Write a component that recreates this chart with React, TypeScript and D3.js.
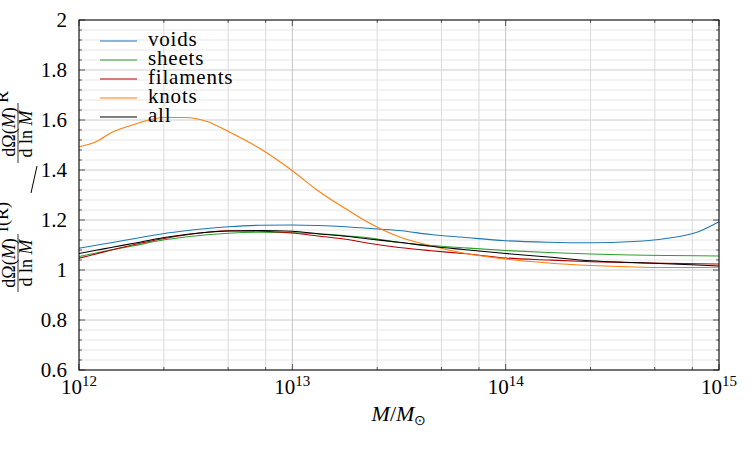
import * as d3 from 'd3'

// log10 of the halo mass at which every curve was sampled
const massExp = [12, 12.08, 12.15, 12.25, 12.4, 12.5, 12.6, 12.7, 12.85, 13, 13.12, 13.25, 13.35, 13.5, 13.65, 13.8, 14, 14.2, 14.4, 14.6, 14.75, 14.9, 15]

const voids = [1.087, 1.099, 1.109, 1.124, 1.146, 1.157, 1.166, 1.173, 1.179, 1.18, 1.178, 1.173, 1.167, 1.158, 1.142, 1.131, 1.117, 1.111, 1.109, 1.114, 1.126, 1.152, 1.193]
const sheets = [1.054, 1.068, 1.08, 1.096, 1.121, 1.132, 1.141, 1.147, 1.151, 1.149, 1.145, 1.137, 1.13, 1.11, 1.098, 1.089, 1.078, 1.07, 1.064, 1.06, 1.058, 1.057, 1.056]
const filaments = [1.047, 1.064, 1.08, 1.1, 1.126, 1.14, 1.151, 1.157, 1.155, 1.148, 1.136, 1.123, 1.108, 1.09, 1.077, 1.066, 1.048, 1.04, 1.033, 1.029, 1.027, 1.025, 1.024]
const knots = [1.493, 1.513, 1.549, 1.58, 1.61, 1.61, 1.594, 1.554, 1.485, 1.397, 1.317, 1.245, 1.193, 1.133, 1.097, 1.068, 1.044, 1.028, 1.018, 1.012, 1.01, 1.01, 1.011]
const all = [1.066, 1.079, 1.09, 1.106, 1.13, 1.142, 1.151, 1.156, 1.158, 1.155, 1.145, 1.135, 1.125, 1.111, 1.095, 1.082, 1.066, 1.052, 1.037, 1.03, 1.025, 1.02, 1.016]

const seriesNames = ['voids', 'sheets', 'filaments', 'knots', 'all']
const seriesValues = [voids, sheets, filaments, knots, all]
const seriesColors = ['#1f77b4', '#2ca02c', '#b40000', '#ff7f0e', '#000000']

const yTicks = [0.6, 0.8, 1, 1.2, 1.4, 1.6, 1.8, 2]
const yTickLabels = ['0.6', '0.8', '1', '1.2', '1.4', '1.6', '1.8', '2']
const xDecades = [12, 13, 14, 15]
const xMinorFactors = [2.5, 5, 7.5]

const W = 750
const H = 450
const margin = { top: 20, right: 31, bottom: 80, left: 79 }
const serif = { fontFamily: "'Liberation Serif', serif" }

export default function App() {
  const x = d3.scaleLog().domain([1e12, 1e15]).range([margin.left, W - margin.right])
  const y = d3.scaleLinear().domain([0.6, 2]).range([H - margin.bottom, margin.top])
  const [x0, x1] = x.range()
  const [y0, y1] = y.range()

  const yMinor = d3.range(0.6, 2.0001, 0.04).map((v) => +v.toFixed(2))
  const isMajorY = (v: number) => Math.abs(v * 5 - Math.round(v * 5)) < 1e-6
  const xMinor = xDecades.slice(0, -1).flatMap((e) => xMinorFactors.map((f) => f * 10 ** e))

  const line = d3
    .line<number>()
    .x((_, i) => x(10 ** massExp[i]))
    .y((d) => y(d))
    .curve(d3.curveMonotoneX)

  return (
    <svg width={W} height={H} style={{ position: 'absolute', left: 0, top: 0, background: '#fff' }}>
      {/* grid */}
      <g>
        {yMinor.map((v) => (
          <line key={'gy' + v} x1={x0} x2={x1} y1={y(v)} y2={y(v)} stroke={isMajorY(v) ? '#cccccc' : '#e6e6e6'} strokeWidth={1} />
        ))}
        {xMinor.map((v) => (
          <line key={'gxm' + v} x1={x(v)} x2={x(v)} y1={y0} y2={y1} stroke="#dadada" strokeWidth={1} />
        ))}
        {xDecades.map((e) => (
          <line key={'gx' + e} x1={x(10 ** e)} x2={x(10 ** e)} y1={y0} y2={y1} stroke="#c4c4c4" strokeWidth={1} />
        ))}
      </g>

      {/* curves */}
      <g fill="none" strokeWidth={1.1}>
        {seriesValues.map((vals, i) => (
          <path key={seriesNames[i]} d={line(vals) ?? ''} stroke={seriesColors[i]} />
        ))}
      </g>

      {/* ticks, inward on all four sides */}
      <g stroke="#333" strokeWidth={0.8}>
        {yMinor.map((v) => {
          const len = isMajorY(v) ? 6 : 3
          return (
            <g key={'ty' + v}>
              <line x1={x0} x2={x0 + len} y1={y(v)} y2={y(v)} />
              <line x1={x1} x2={x1 - len} y1={y(v)} y2={y(v)} />
            </g>
          )
        })}
        {xMinor.map((v) => (
          <g key={'txm' + v}>
            <line x1={x(v)} x2={x(v)} y1={y0} y2={y0 - 3} />
            <line x1={x(v)} x2={x(v)} y1={y1} y2={y1 + 3} />
          </g>
        ))}
        {xDecades.map((e) => (
          <g key={'tx' + e}>
            <line x1={x(10 ** e)} x2={x(10 ** e)} y1={y0} y2={y0 - 6} />
            <line x1={x(10 ** e)} x2={x(10 ** e)} y1={y1} y2={y1 + 6} />
          </g>
        ))}
      </g>

      <rect x={x0} y={y1} width={x1 - x0} height={y0 - y1} fill="none" stroke="#000" strokeWidth={1} />

      {/* tick labels */}
      <g fontSize={21} fill="#000">
        {yTicks.map((v, i) => (
          <text key={'ly' + v} x={x0 - 12} y={y(v) + 7} textAnchor="end" style={serif}>
            {yTickLabels[i]}
          </text>
        ))}
        {xDecades.map((e) => (
          <text key={'lx' + e} x={x(10 ** e)} y={394} textAnchor="middle" style={serif}>
            10<tspan dy={-8} fontSize={15}>{e}</tspan>
          </text>
        ))}
      </g>

      {/* x axis title */}
      <text x={(x0 + x1) / 2} y={421} textAnchor="middle" fontSize={22} style={serif}>
        <tspan fontStyle="italic">M</tspan>/<tspan fontStyle="italic">M</tspan>
        <tspan dy={4} fontSize={14}>⊙</tspan>
      </text>

      {/* y axis title: ratio of two mass functions */}
      <g transform="translate(0,196) rotate(-90)" fontSize={18}>
        <text x={-67} y={15} textAnchor="middle" style={serif}>
          dΩ(<tspan fontStyle="italic">M</tspan>)
        </text>
        <line x1={-96} x2={-38} y1={18} y2={18} stroke="#000" strokeWidth={0.8} />
        <text x={-67} y={32} textAnchor="middle" style={serif}>
          d ln <tspan fontStyle="italic">M</tspan>
        </text>
        <text x={-21} y={8} textAnchor="middle" style={serif}>f(R)</text>

        <text x={64} y={15} textAnchor="middle" style={serif}>
          dΩ(<tspan fontStyle="italic">M</tspan>)
        </text>
        <line x1={33} x2={93} y1={18} y2={18} stroke="#000" strokeWidth={0.8} />
        <text x={62} y={32} textAnchor="middle" style={serif}>
          d ln <tspan fontStyle="italic">M</tspan>
        </text>
        <text x={99} y={8} textAnchor="middle" style={serif}>R</text>
      </g>
      <line x1={31} y1={193} x2={37} y2={166} stroke="#000" strokeWidth={1} />

      {/* legend */}
      <g fontSize={21}>
        {seriesNames.map((name, i) => {
          const ly = 41 + i * 19
          return (
            <g key={'lg' + name}>
              <line x1={100} x2={137} y1={ly} y2={ly} stroke={seriesColors[i]} strokeWidth={1.1} />
              <text x={148} y={ly + 5} letterSpacing={0.8} style={serif}>
                {name}
              </text>
            </g>
          )
        })}
      </g>
    </svg>
  )
}
